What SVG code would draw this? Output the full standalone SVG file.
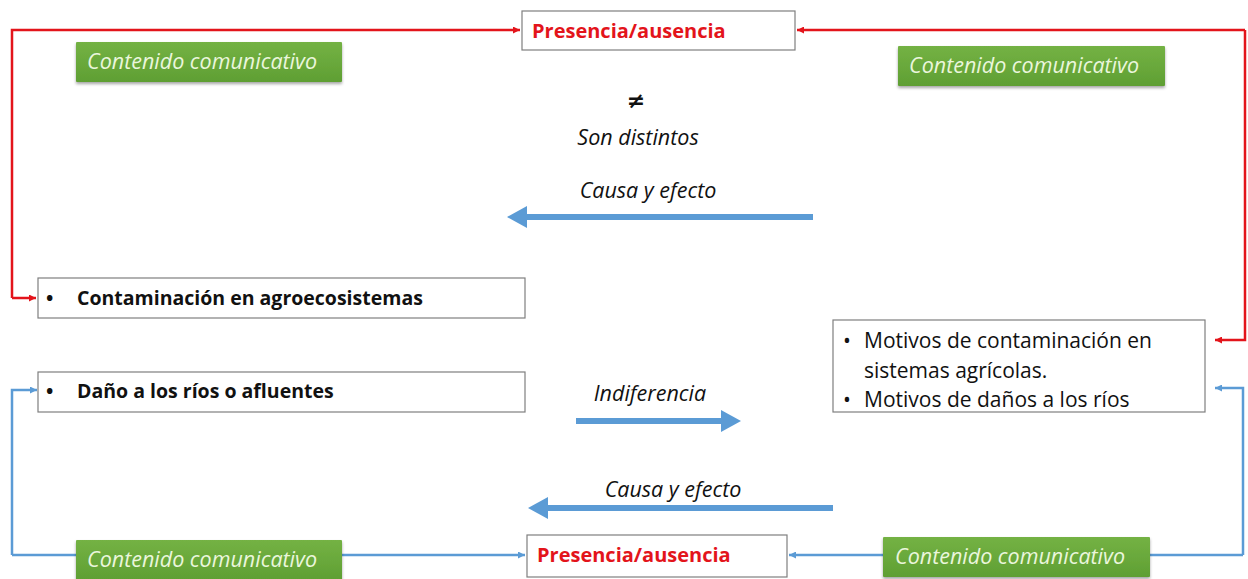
<svg xmlns="http://www.w3.org/2000/svg" width="1248" height="579" viewBox="0 0 1248 579">
<defs>
<linearGradient id="gr" x1="0" y1="0" x2="0" y2="1">
<stop offset="0" stop-color="#74b244"/>
<stop offset="1" stop-color="#5f9f33"/>
</linearGradient>
<filter id="sh" x="-10%" y="-20%" width="120%" height="160%">
<feDropShadow dx="0" dy="2" stdDeviation="1.5" flood-color="#000" flood-opacity="0.35"/>
</filter>
<marker id="ar" viewBox="0 0 10 10" refX="10" refY="5" markerWidth="7" markerHeight="7" markerUnits="userSpaceOnUse" orient="auto">
<path d="M0,0 L10,5 L0,10 Z" fill="#e3141b"/>
</marker>
<marker id="ab" viewBox="0 0 10 10" refX="10" refY="5" markerWidth="7" markerHeight="7" markerUnits="userSpaceOnUse" orient="auto">
<path d="M0,0 L10,5 L0,10 Z" fill="#5b9bd5"/>
</marker>
</defs>
<style>
.box{fill:#fff;stroke:#7f7f7f;stroke-width:1.2}
.green{fill:url(#gr);filter:url(#sh)}
.gt{font-family:"Open Sans","Liberation Sans",sans-serif;font-style:italic;font-size:21.5px;fill:#eaf6dc}
.pt{font-family:"Open Sans","Liberation Sans",sans-serif;font-weight:bold;font-size:20px;fill:#e3141b}
.bt{font-family:"Open Sans","Liberation Sans",sans-serif;font-weight:bold;font-size:19.5px;fill:#111}
.nt{font-family:"Open Sans","Liberation Sans",sans-serif;font-size:21px;fill:#111}
.it{font-family:"Open Sans","Liberation Sans",sans-serif;font-style:italic;font-size:21.5px;fill:#111}
.red{fill:none;stroke:#e3141b;stroke-width:2.5}
.blue{fill:none;stroke:#5b9bd5;stroke-width:2.5}
.fat{fill:none;stroke:#5b9bd5;stroke-width:6}
</style>
<g id="connectors">
<polyline class="red" points="12,298 12,30 520,30" marker-end="url(#ar)"/>
<polyline class="red" points="12,298 36,298" marker-end="url(#ar)"/>
<polyline class="red" points="1245,30 797,30" marker-end="url(#ar)"/>
<polyline class="red" points="1245,30 1245,340 1215,340" marker-end="url(#ar)"/>
<polyline class="blue" points="12,555 12,390 37,390" marker-end="url(#ab)"/>
<polyline class="blue" points="12,555 525,555" marker-end="url(#ab)"/>
<polyline class="blue" points="1243,555 1243,388 1215,388" marker-end="url(#ab)"/>
<polyline class="blue" points="1243,555 789,555" marker-end="url(#ab)"/>
<line class="fat" x1="813" y1="217" x2="524" y2="217"/>
<path d="M507,217 L527,206 L527,228 Z" fill="#5b9bd5"/>
<line class="fat" x1="576" y1="421" x2="724" y2="421"/>
<path d="M741,421 L721,410 L721,432 Z" fill="#5b9bd5"/>
<line class="fat" x1="833" y1="508" x2="545" y2="508"/>
<path d="M528,508 L548,497 L548,519 Z" fill="#5b9bd5"/>
</g>
<g id="pres-top">
<rect class="box" x="522" y="11" width="273" height="39"/>
<text class="pt" x="532" y="38">Presencia/ausencia</text>
</g>
<g id="green-tl">
<rect class="green" x="76" y="42" width="266" height="40" rx="1"/>
<text class="gt" x="87" y="69">Contenido comunicativo</text>
</g>
<g id="green-tr">
<rect class="green" x="898" y="46" width="267" height="40" rx="1"/>
<text class="gt" x="909" y="73">Contenido comunicativo</text>
</g>
<g id="labels-top">
<text x="636" y="108" text-anchor="middle" style="font-family:'DejaVu Sans',sans-serif;font-size:22px;font-weight:bold;fill:#111">≠</text>
<text class="it" x="638" y="145" text-anchor="middle">Son distintos</text>
<text class="it" x="648" y="198" text-anchor="middle">Causa y efecto</text>
</g>
<g id="box-contaminacion">
<rect class="box" x="38" y="278" width="487" height="40"/>
<text class="bt" x="46" y="305">•</text>
<text class="bt" x="77" y="305">Contaminación en agroecosistemas</text>
</g>
<g id="box-dano">
<rect class="box" x="38" y="372" width="487" height="40"/>
<text class="bt" x="46" y="398">•</text>
<text class="bt" x="77" y="398">Daño a los ríos o afluentes</text>
</g>
<g id="label-indiferencia">
<text class="it" x="650" y="401" text-anchor="middle">Indiferencia</text>
</g>
<g id="box-motivos">
<rect class="box" x="833" y="320" width="372" height="92"/>
<text class="nt" x="843" y="348">•</text>
<text class="nt" x="864" y="348">Motivos de contaminación en</text>
<text class="nt" x="864" y="378">sistemas agrícolas.</text>
<text class="nt" x="843" y="407">•</text>
<text class="nt" x="864" y="407">Motivos de daños a los ríos</text>
</g>
<g id="label-causa-bottom">
<text class="it" x="673" y="497" text-anchor="middle">Causa y efecto</text>
</g>
<g id="green-bl">
<rect class="green" x="76" y="540" width="266" height="40" rx="1"/>
<text class="gt" x="87" y="567">Contenido comunicativo</text>
</g>
<g id="pres-bottom">
<rect class="box" x="527" y="535" width="260" height="42"/>
<text class="pt" x="537" y="562">Presencia/ausencia</text>
</g>
<g id="green-br">
<rect class="green" x="883" y="537" width="267" height="40" rx="1"/>
<text class="gt" x="895" y="564">Contenido comunicativo</text>
</g>
</svg>
